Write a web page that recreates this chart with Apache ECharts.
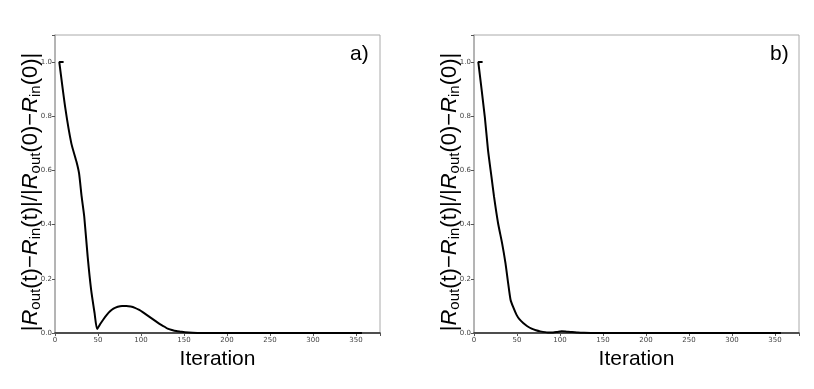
<!DOCTYPE html>
<html>
<head>
<meta charset="utf-8">
<script src="https://cdn.jsdelivr.net/npm/echarts@6/dist/echarts.min.js"></script>
<style>
  html, body { margin: 0; padding: 0; background: #fff; }
  #chart { width: 814px; height: 389px; }
</style>
</head>
<body>
<div id="chart"></div>
<script>
// Panel a) iteration / relative difference
const iterA = [10, 5, 12, 19, 25, 28, 31, 34, 38, 42, 46, 49, 53, 56, 60, 64, 68, 73, 78, 83, 88, 93, 98, 102, 107, 112, 117, 122, 127, 131, 136, 141, 146, 151, 160, 170, 200, 250, 300, 357];
const valA  = [1.0, 1.0, 0.83, 0.70, 0.632, 0.589, 0.503, 0.43, 0.282, 0.16, 0.074, 0.015, 0.035, 0.049, 0.066, 0.08, 0.09, 0.097, 0.10, 0.10, 0.098, 0.093, 0.085, 0.077, 0.066, 0.055, 0.044, 0.033, 0.024, 0.016, 0.011, 0.007, 0.005, 0.003, 0.001, 0.0, 0.0, 0.0, 0.0, 0.0];

// Panel b)
const iterB = [10, 5, 12.5, 16.3, 20.3, 23.3, 28, 32.7, 36.6, 39.7, 42.5, 45.5, 49.5, 53, 57.2, 62, 67, 72, 77, 86, 92, 97, 102, 108, 114, 121, 128, 140, 160, 200, 250, 300, 357];
const valB  = [1.0, 1.0, 0.80, 0.675, 0.577, 0.503, 0.405, 0.331, 0.258, 0.184, 0.123, 0.096, 0.067, 0.05, 0.037, 0.025, 0.016, 0.01, 0.006, 0.002, 0.002, 0.004, 0.006, 0.005, 0.004, 0.002, 0.001, 0.0, 0.0, 0.0, 0.0, 0.0, 0.0];

const xTicks = [0, 50, 100, 150, 200, 250, 300, 350];
const yTicks = [0.0, 0.2, 0.4, 0.6, 0.8, 1.0];

const chart = echarts.init(document.getElementById('chart'));

const pairs = (xs, ys) => xs.map((x, i) => [x, ys[i]]);

// y axis title with subscripts (rich text)
const yName = '{t||}{r|R}{s|out}{t|(t)−}{r|R}{s|in}{t|(t)|/|}{r|R}{s|out}{t|(0)−}{r|R}{s|in}{t|(0)|}';
const yNameRich = {
  t: { fontSize: 22, fontFamily: 'Liberation Sans', fill: '#000', lineHeight: 28 },
  r: { fontSize: 22, fontFamily: 'Liberation Sans', fontStyle: 'italic', fill: '#000', lineHeight: 28 },
  s: { fontSize: 15, fontFamily: 'Liberation Sans', fill: '#000', lineHeight: 28, padding: [10, 0, 0, 0] }
};

const yTitle = (x) => ({
  type: 'text',
  x: x,
  y: 192,
  rotation: Math.PI / 2,
  style: { text: yName, rich: yNameRich, align: 'center', verticalAlign: 'middle' }
});

const xAxisBase = (gridIndex) => ({
  type: 'value',
  gridIndex: gridIndex,
  min: 0,
  max: 378,
  interval: 50,
  name: 'Iteration',
  nameLocation: 'middle',
  nameGap: 16,
  nameTextStyle: { fontSize: 21, fontFamily: 'Liberation Sans', color: '#000', verticalAlign: 'top' },
  axisLine: { lineStyle: { color: '#222', width: 1.5 } },
  axisTick: { show: true, length: 3, lineStyle: { color: '#555' } },
  axisLabel: {
    fontSize: 7, color: '#444', fontFamily: 'DejaVu Sans', margin: 4,
    formatter: v => xTicks.includes(v) ? String(v) : ''
  },
  splitLine: { show: false }
});

const yAxisBase = (gridIndex) => ({
  type: 'value',
  gridIndex: gridIndex,
  min: 0,
  max: 1.1,
  interval: 0.2,
  axisLine: { show: true, lineStyle: { color: '#aaa', width: 1.5 } },
  axisTick: { show: true, length: 3, lineStyle: { color: '#555' } },
  axisLabel: {
    fontSize: 7, color: '#444', fontFamily: 'DejaVu Sans', margin: 3,
    formatter: v => yTicks.some(t => Math.abs(t - v) < 1e-9) ? v.toFixed(1) : ''
  },
  splitLine: { show: false }
});

const option = {
  backgroundColor: '#fff',
  animation: false,
  grid: [
    { left: 55, right: 434, top: 35, bottom: 56, show: true, borderColor: '#aaa', borderWidth: 1 },
    { left: 474, right: 15, top: 35, bottom: 56, show: true, borderColor: '#aaa', borderWidth: 1 }
  ],
  xAxis: [xAxisBase(0), xAxisBase(1)],
  yAxis: [yAxisBase(0), yAxisBase(1)],
  graphic: [
    yTitle(31),
    yTitle(450),
    { type: 'text', left: 350, top: 44, style: { text: 'a)', fontSize: 21, fontFamily: 'Liberation Sans', fill: '#000' } },
    { type: 'text', left: 770, top: 44, style: { text: 'b)', fontSize: 21, fontFamily: 'Liberation Sans', fill: '#000' } }
  ],
  series: [
    {
      type: 'line', xAxisIndex: 0, yAxisIndex: 0,
      data: pairs(iterA, valA),
      showSymbol: false, smooth: 0.2,
      lineStyle: { color: '#000', width: 2 }
    },
    {
      type: 'line', xAxisIndex: 1, yAxisIndex: 1,
      data: pairs(iterB, valB),
      showSymbol: false, smooth: 0.2,
      lineStyle: { color: '#000', width: 2 }
    }
  ]
};

chart.setOption(option);
</script>
</body>
</html>
